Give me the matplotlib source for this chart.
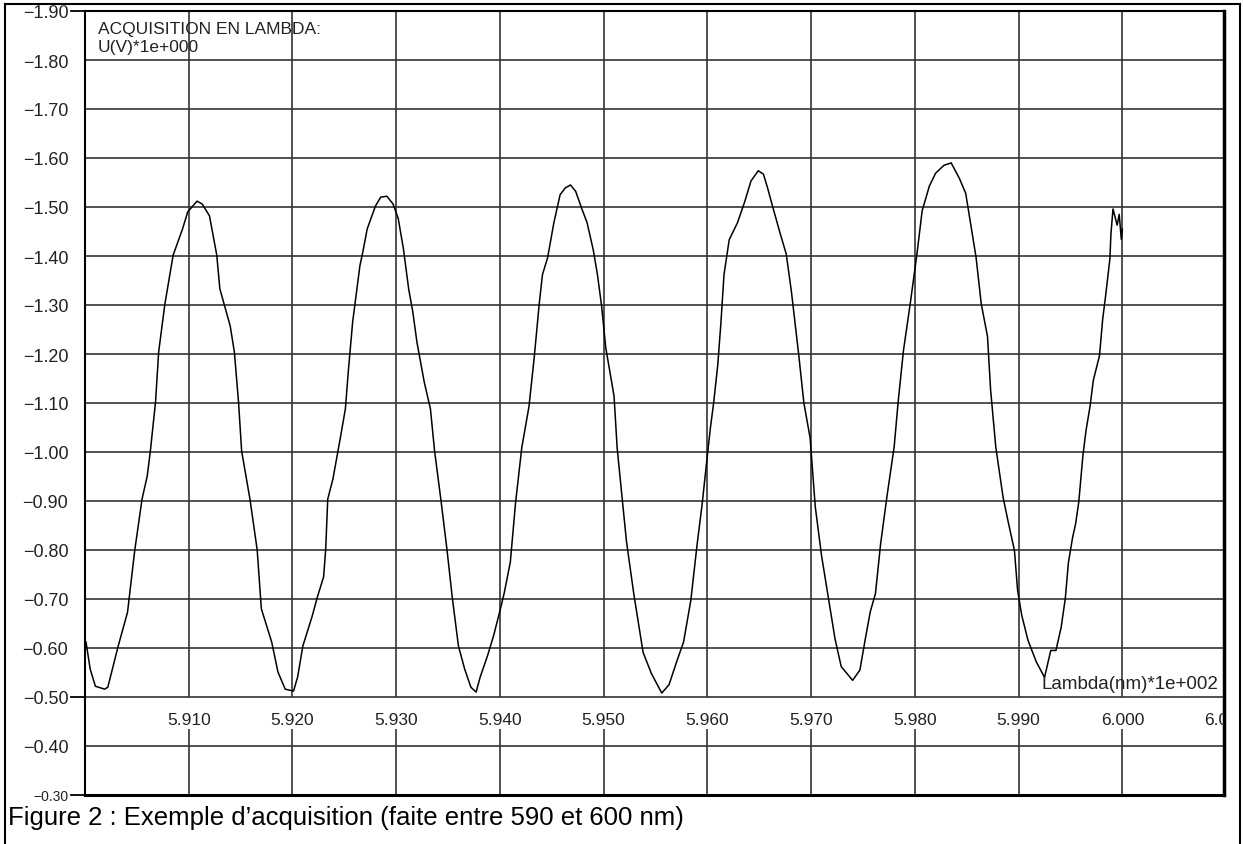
import matplotlib.pyplot as plt
from matplotlib.lines import Line2D
from matplotlib.patches import Rectangle

# values (lambda in nm * 1e-2, U in V)
lam = [5.9001, 5.9005, 5.9010, 5.9019, 5.9022, 5.9032, 5.9041, 5.9048, 5.9055, 5.9060,
       5.9063, 5.9068, 5.9071, 5.9077, 5.9085, 5.9094, 5.9099, 5.9108, 5.9113, 5.9120,
       5.9127, 5.9130, 5.9140, 5.9144, 5.9148, 5.9151, 5.9159, 5.9166, 5.9170, 5.9180,
       5.9186, 5.9193,
       5.9201, 5.9205, 5.9210, 5.9219, 5.9224, 5.9230, 5.9232, 5.9234, 5.9239, 5.9246,
       5.9251, 5.9254, 5.9258, 5.9260, 5.9265, 5.9268, 5.9272, 5.9280, 5.9285, 5.9291,
       5.9297, 5.9302, 5.9307, 5.9312, 5.9316, 5.9320, 5.9327, 5.9333, 5.9337, 5.9343,
       5.9349, 5.9354, 5.9360, 5.9366, 5.9372,
       5.9377, 5.9381, 5.9388, 5.9394, 5.9400, 5.9404, 5.9410, 5.9415, 5.9421, 5.9428,
       5.9433, 5.9438, 5.9441, 5.9446, 5.9452, 5.9458, 5.9463, 5.9468, 5.9473, 5.9479,
       5.9484, 5.9490, 5.9494, 5.9498, 5.9502, 5.9510, 5.9513, 5.9518, 5.9522, 5.9529,
       5.9538, 5.9546, 5.9556, 5.9563,
       5.9571, 5.9577, 5.9584, 5.9590, 5.9595, 5.9600, 5.9603, 5.9606, 5.9610, 5.9613,
       5.9616, 5.9621, 5.9629, 5.9636, 5.9642, 5.9649, 5.9654, 5.9658, 5.9663, 5.9670,
       5.9676, 5.9681, 5.9688, 5.9693, 5.9699, 5.9704, 5.9710, 5.9717, 5.9723, 5.9729,
       5.9740,
       5.9747, 5.9752, 5.9757, 5.9762, 5.9767, 5.9773, 5.9780, 5.9784, 5.9789, 5.9796,
       5.9802, 5.9807, 5.9814, 5.9820, 5.9828, 5.9835, 5.9843, 5.9849, 5.9854, 5.9859,
       5.9864, 5.9870, 5.9873, 5.9878, 5.9885, 5.9890, 5.9896, 5.9899, 5.9903, 5.9909,
       5.9917, 5.9925,
       5.9931, 5.9936, 5.9941, 5.9945, 5.9948, 5.9952, 5.9955, 5.9958, 5.9962, 5.9965,
       5.9969, 5.9972, 5.9978, 5.9981, 5.9984, 5.9988, 5.9989, 5.9991, 5.9995, 5.9997,
       5.9999, 6.0000]

u = [-0.612, -0.557, -0.522, -0.516, -0.520, -0.604, -0.673, -0.800, -0.904, -0.951,
     -1.002, -1.102, -1.204, -1.302, -1.402, -1.455, -1.490, -1.512, -1.506, -1.482,
     -1.402, -1.333, -1.257, -1.204, -1.102, -1.002, -0.904, -0.800, -0.680, -0.612,
     -0.551, -0.516,
     -0.512, -0.541, -0.604, -0.665, -0.704, -0.745, -0.800, -0.904, -0.945, -1.027,
     -1.088, -1.169, -1.265, -1.298, -1.380, -1.410, -1.455, -1.502, -1.520, -1.522,
     -1.506, -1.476, -1.414, -1.333, -1.286, -1.224, -1.143, -1.088, -1.002, -0.904,
     -0.800, -0.704, -0.604, -0.557, -0.520,
     -0.510, -0.541, -0.584, -0.626, -0.676, -0.711, -0.775, -0.895, -1.008, -1.093,
     -1.192, -1.305, -1.362, -1.397, -1.468, -1.525, -1.539, -1.545, -1.532, -1.496,
     -1.468, -1.412, -1.362, -1.298, -1.213, -1.114, -1.008, -0.902, -0.817, -0.711,
     -0.591, -0.548, -0.508, -0.525,
     -0.576, -0.612, -0.697, -0.810, -0.895, -0.994, -1.051, -1.100, -1.178, -1.263,
     -1.362, -1.433, -1.468, -1.511, -1.553, -1.574, -1.567, -1.539, -1.500, -1.447,
     -1.404, -1.327, -1.199, -1.100, -1.029, -0.888, -0.789, -0.697, -0.619, -0.562,
     -0.534,
     -0.555, -0.616, -0.674, -0.711, -0.813, -0.908, -1.010, -1.105, -1.207, -1.310,
     -1.404, -1.492, -1.543, -1.569, -1.585, -1.590, -1.558, -1.528, -1.463, -1.397,
     -1.302, -1.236, -1.127, -1.010, -0.908, -0.857, -0.799, -0.718, -0.667, -0.616,
     -0.572, -0.540,
     -0.595, -0.595, -0.642, -0.701, -0.774, -0.825, -0.854, -0.898, -0.993, -1.044,
     -1.095, -1.146, -1.197, -1.270, -1.321, -1.394, -1.445, -1.496, -1.463, -1.485,
     -1.434, -1.455]

x_ticks = [5.910, 5.920, 5.930, 5.940, 5.950, 5.960, 5.970, 5.980, 5.990, 6.000, 6.010]
y_ticks = [-1.90, -1.80, -1.70, -1.60, -1.50, -1.40, -1.30, -1.20, -1.10, -1.00,
           -0.90, -0.80, -0.70, -0.60, -0.50, -0.40, -0.30]

plt.rcParams['font.family'] = ['Liberation Sans', 'DejaVu Sans']

fig = plt.figure(figsize=(12.43, 8.45), dpi=100)
ax = fig.add_axes([85 / 1243, 1 - 796 / 845, (1224 - 85) / 1243, (796 - 12) / 845])

ax.set_xlim(5.900, 6.0098)
ax.set_ylim(-0.30, -1.90)

grid_color = '#333333'
for v in y_ticks[1:-1]:
    ax.axhline(v, color=grid_color, lw=1.2, zorder=1)
# vertical grid lines, broken where the x labels sit
ax.vlines(x_ticks[:-1], -1.90, -0.50, color=grid_color, lw=1.2, zorder=1)
ax.vlines(x_ticks[:-1], -0.435, -0.30, color=grid_color, lw=1.2, zorder=1)

for xv in x_ticks:
    ax.text(xv, -0.455, f'{xv:.3f}', ha='center', va='center', fontsize=12.5,
            color='#222222', clip_on=True)

ax.plot(lam, u, color='black', lw=1.1, zorder=3)

ax.set_xticks([])
ax.set_yticks(y_ticks)
ax.set_yticklabels([f'\u2212{abs(v):.2f}' for v in y_ticks], fontsize=13, color='#222222')
ax.get_yticklabels()[-1].set_fontsize(10)
ax.tick_params(axis='y', length=0, pad=12)

for v in (-1.90, -0.50, -0.30):
    ax.plot([-0.012, 0], [v, v], transform=ax.get_yaxis_transform(),
            clip_on=False, color='black', lw=1.3)

for side in ('left', 'top'):
    ax.spines[side].set_linewidth(1.5)
ax.spines['bottom'].set_linewidth(2.2)
ax.spines['right'].set_linewidth(2.5)

ax.text(0.011, 0.987, 'ACQUISITION EN LAMBDA:', transform=ax.transAxes,
        fontsize=12.5, va='top', ha='left', color='#222222')
ax.text(0.011, 0.964, 'U(V)*1e+000', transform=ax.transAxes,
        fontsize=12.5, va='top', ha='left', color='#222222')
ax.text(0.995, -0.527, 'Lambda(nm)*1e+002', fontsize=13.5, ha='right', va='center',
        transform=ax.get_yaxis_transform(), color='#222222')

fig.text(8 / 1243, 1 - 825 / 845, 'Figure 2 : Exemple d\u2019acquisition (faite entre 590 et 600 nm)',
         fontsize=18.5, ha='left', va='baseline')

# page frame, with the top label cut by it
fig.add_artist(Rectangle((0, 1 - 5 / 845), 1, 5 / 845, transform=fig.transFigure,
                         color='white', zorder=10))
fig.add_artist(Line2D([5 / 1243, 5 / 1243], [0, 1 - 5 / 845], transform=fig.transFigure,
                      color='black', lw=1.5, zorder=11))
fig.add_artist(Line2D([5 / 1243, 1240 / 1243], [1 - 5 / 845, 1 - 5 / 845],
                      transform=fig.transFigure, color='black', lw=1.5, zorder=11))
fig.add_artist(Line2D([1240 / 1243, 1240 / 1243], [0, 1 - 5 / 845], transform=fig.transFigure,
                      color='black', lw=1.5, zorder=11))

fig.savefig('out.png', dpi=100)
